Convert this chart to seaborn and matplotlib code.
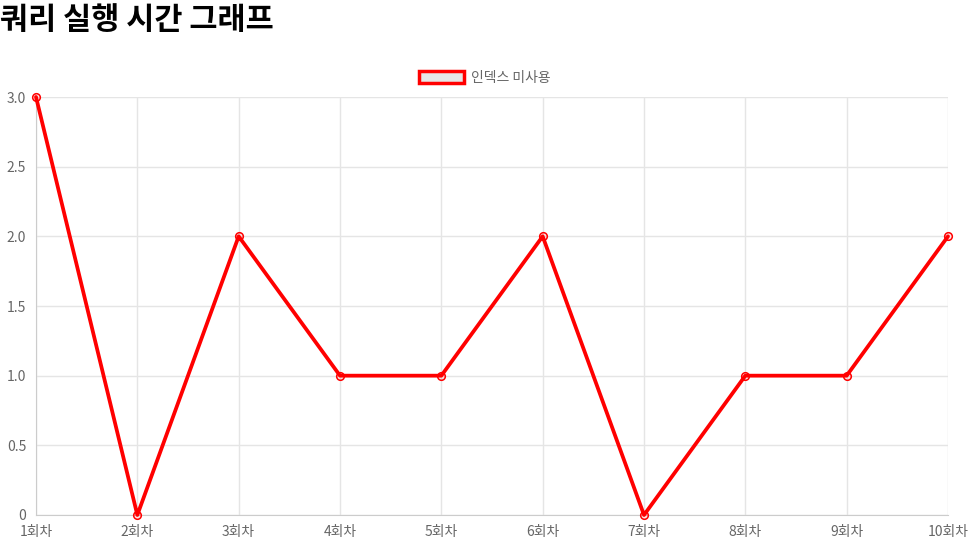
import matplotlib
matplotlib.use('Agg')
import matplotlib.pyplot as plt
import seaborn as sns
import pandas as pd
from matplotlib.patches import Patch

# data
runs = ['1회차', '2회차', '3회차', '4회차', '5회차', '6회차', '7회차', '8회차', '9회차', '10회차']
times = [3, 0, 2, 1, 1, 2, 0, 1, 1, 2]
series_name = '인덱스 미사용'
y_ticks = [0, 0.5, 1.0, 1.5, 2.0, 2.5, 3.0]
y_labels = ['0', '0.5', '1.0', '1.5', '2.0', '2.5', '3.0']

sns.set_style('white')
plt.rcParams['font.family'] = ['Noto Sans CJK KR', 'DejaVu Sans']

df = pd.DataFrame({'run': runs, 'time': times, 'pos': range(len(runs))})

fig = plt.figure(figsize=(9.78, 5.43), dpi=100)
ax = fig.add_axes([36 / 978, 1 - 515 / 543, 912 / 978, 418 / 543])

sns.lineplot(data=df, x='pos', y='time', ax=ax, color='#ff0000', linewidth=2.7,
             marker='o', markersize=5.5, markerfacecolor=(1, 0, 0, 0.1),
             markeredgecolor='#ff0000', markeredgewidth=1.1, clip_on=False, zorder=5)

ax.set_xlim(0, len(runs) - 1)
ax.set_ylim(0, 3)
ax.set_xticks(range(len(runs)))
ax.set_xticklabels(runs)
ax.set_yticks(y_ticks)
ax.set_yticklabels(y_labels)
ax.set_xlabel('')
ax.set_ylabel('')

ax.grid(True, color='#e5e5e5', linewidth=1)
for s in ['top', 'right']:
    ax.spines[s].set_visible(False)
for s in ['left', 'bottom']:
    ax.spines[s].set_color('#cccccc')
ax.tick_params(axis='both', length=6, color='#e5e5e5', labelcolor='#666666', labelsize=10, pad=1)

fig.text(0.0, 1 - 20 / 543, '쿼리 실행 시간 그래프', fontsize=22, fontweight='bold',
         va='center', ha='left', color='black')

handle = Patch(facecolor='#e6e6e6', edgecolor='#ff0000', linewidth=2.5)
fig.legend([handle], [series_name], loc='center', bbox_to_anchor=(485 / 978, 1 - 78 / 543),
           frameon=False, fontsize=10, labelcolor='#666666', handlelength=3.2, handleheight=1.0,
           handletextpad=0.5)

fig.savefig('out.png', dpi=100)
